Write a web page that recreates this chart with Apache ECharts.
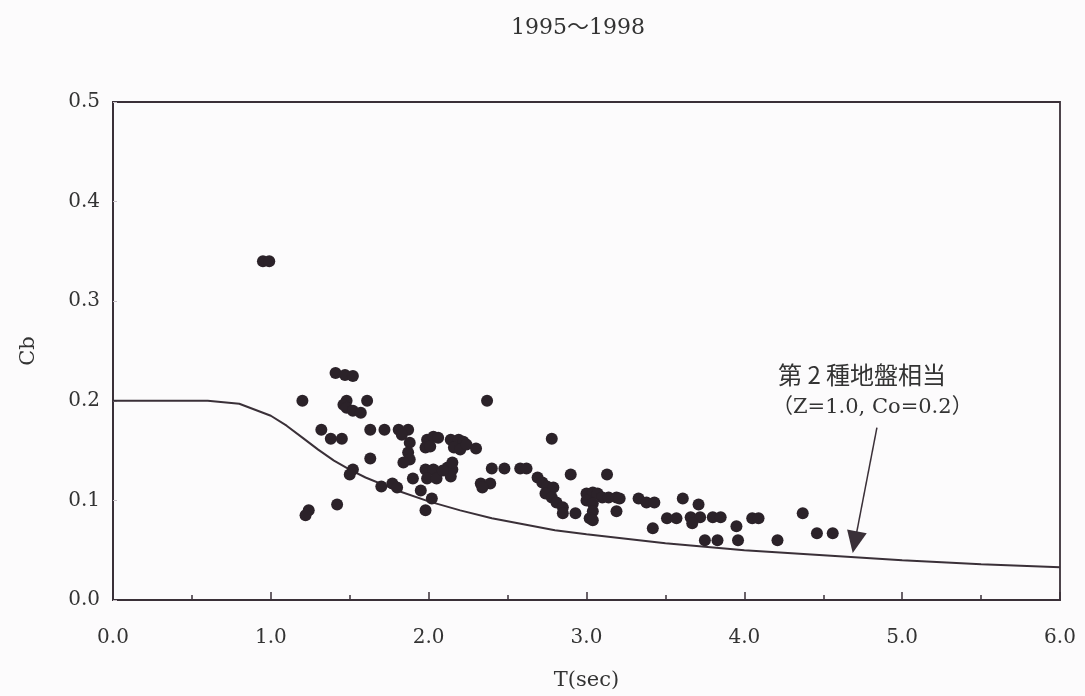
<!DOCTYPE html>
<html>
<head>
<meta charset="utf-8">
<script src="https://cdn.jsdelivr.net/npm/echarts@6/dist/echarts.min.js"></script>
<style>
html,body{margin:0;padding:0;background:#fcfbfc;}
#c{width:1085px;height:696px;}
</style>
</head>
<body>
<div id="c"></div>
<script>
const titleText = '1995～1998';
const xName = 'T(sec)';
const yName = 'Cb';
const noteLine1 = '第 2 種地盤相当';
const noteLine2 = '（Z=1.0, Co=0.2）';

// Observed (T, Cb) points
const observedPoints = [
  [0.95,0.340],[0.99,0.340],
  [1.41,0.228],[1.47,0.226],[1.52,0.225],
  [1.20,0.200],
  [1.48,0.200],[1.46,0.196],[1.48,0.193],[1.52,0.190],[1.57,0.188],
  [1.61,0.200],
  [1.32,0.171],
  [1.38,0.162],[1.45,0.162],
  [1.63,0.171],[1.72,0.171],
  [1.81,0.171],[1.87,0.171],[1.83,0.166],
  [1.88,0.158],
  [1.87,0.148],[1.88,0.141],[1.84,0.138],
  [1.99,0.161],[2.03,0.164],[2.06,0.163],[1.98,0.153],[2.01,0.154],
  [2.14,0.161],[2.19,0.161],[2.22,0.159],[2.16,0.153],[2.20,0.151],[2.24,0.156],
  [2.30,0.152],
  [1.63,0.142],
  [1.52,0.131],[1.50,0.126],
  [1.90,0.122],[1.98,0.131],[2.03,0.131],[1.99,0.122],[2.05,0.122],[1.95,0.110],[2.02,0.102],[1.98,0.090],
  [1.70,0.114],[1.77,0.117],[1.80,0.113],
  [2.12,0.133],[2.15,0.131],[2.14,0.124],[2.15,0.138],[2.09,0.130],
  [1.24,0.090],[1.22,0.085],
  [1.42,0.096],
  [2.37,0.200],
  [2.33,0.117],[2.39,0.117],[2.34,0.113],
  [2.40,0.132],[2.48,0.132],[2.58,0.132],[2.62,0.132],
  [2.78,0.162],
  [2.69,0.123],[2.72,0.118],[2.75,0.114],[2.79,0.113],[2.74,0.107],[2.78,0.103],
  [2.90,0.126],
  [2.81,0.098],[2.85,0.093],[2.85,0.087],[2.93,0.087],
  [3.13,0.126],
  [3.00,0.107],[3.04,0.108],[3.07,0.107],[3.10,0.103],[3.14,0.103],[3.19,0.103],[3.21,0.102],
  [3.00,0.100],[3.04,0.097],[3.04,0.089],[3.02,0.082],[3.19,0.089],[3.04,0.080],
  [3.33,0.102],[3.38,0.098],[3.43,0.098],
  [3.51,0.082],[3.57,0.082],
  [3.42,0.072],
  [3.61,0.102],[3.71,0.096],
  [3.66,0.083],[3.72,0.083],[3.80,0.083],[3.85,0.083],
  [3.67,0.077],
  [3.75,0.060],[3.83,0.060],
  [3.95,0.074],[3.96,0.060],
  [4.05,0.082],[4.09,0.082],
  [4.21,0.060],
  [4.37,0.087],
  [4.46,0.067],[4.56,0.067]
];

// Design curve (type-2 soil)
const curvePoints = [
  [0.0,0.200],[0.6,0.200],[0.8,0.197],[1.0,0.185],[1.1,0.175],[1.2,0.163],
  [1.3,0.151],[1.4,0.140],[1.5,0.131],[1.6,0.123],[1.8,0.110],[2.0,0.099],
  [2.2,0.090],[2.4,0.082],[2.6,0.076],[2.8,0.070],[3.0,0.066],[3.5,0.057],
  [4.0,0.050],[4.5,0.045],[5.0,0.040],[5.5,0.036],[6.0,0.033]
];

// Arrow from annotation to curve
const arrowStart = [4.84,0.173];
const arrowEnd = [4.70,0.058];

const xTicks = {min:0, max:6, interval:1};
const yTicks = {min:0, max:0.5, interval:0.1};

const ink = '#3a3038';
const serif = '"DejaVu Serif","Liberation Serif",serif';
const cjk = '"DejaVu Serif","Noto Sans CJK JP",serif';

const chart = echarts.init(document.getElementById('c'));
chart.setOption({
  backgroundColor:'#fcfbfc',
  animation:false,
  title:{
    text:titleText, left:573, top:12, textAlign:'center',
    textStyle:{fontFamily:cjk, fontSize:22, fontWeight:'normal', color:'#333'}
  },
  grid:{left:113, right:25, top:102, bottom:96, show:true, borderColor:ink, borderWidth:1.8, backgroundColor:'transparent'},
  xAxis:{
    type:'value', min:xTicks.min, max:xTicks.max, interval:xTicks.interval,
    name:xName, nameLocation:'middle', nameGap:70,
    nameTextStyle:{fontFamily:serif, fontSize:21, color:'#333'},
    axisLine:{show:true, lineStyle:{color:ink, width:2}},
    axisTick:{show:true, inside:true, length:8, lineStyle:{color:ink, width:1.5}},
    minorTick:{show:true, splitNumber:2, length:5, lineStyle:{color:ink, width:1.5}},
    splitLine:{show:false},
    minorSplitLine:{show:false},
    axisLabel:{margin:28, fontFamily:serif, fontSize:20, color:'#333', formatter:v => v.toFixed(1)}
  },
  yAxis:{
    type:'value', min:yTicks.min, max:yTicks.max, interval:yTicks.interval,
    name:yName, nameLocation:'middle', nameGap:74, nameRotate:90,
    nameTextStyle:{fontFamily:serif, fontSize:21, color:'#333'},
    axisLine:{show:true, lineStyle:{color:ink, width:2}},
    axisTick:{show:true, inside:true, length:4, lineStyle:{color:'#c8c0c6', width:1}},
    splitLine:{show:false},
    axisLabel:{margin:13, fontFamily:serif, fontSize:20, color:'#333', formatter:v => v.toFixed(1)}
  },
  series:[
    {
      type:'line', data:curvePoints, smooth:false, showSymbol:false, symbol:'none',
      lineStyle:{color:ink, width:2}, z:2,
      markLine:{
        silent:true, symbol:['none','triangle'], symbolSize:[20,22],
        label:{show:false},
        lineStyle:{color:ink, width:1.5, type:'solid'},
        data:[[{coord:arrowStart},{coord:arrowEnd}]]
      }
    },
    {
      type:'scatter', data:observedPoints, symbol:'circle', symbolSize:12,
      itemStyle:{color:'#2b2229', opacity:1}, z:3
    }
  ],
  graphic:[
    {type:'text', left:778, top:363, style:{text:noteLine1, font:'24px "Noto Sans CJK JP"', fill:'#333'}},
    {type:'text', left:772, top:397, style:{text:noteLine2, font:'21px "DejaVu Serif","Noto Sans CJK JP"', fill:'#333'}}
  ]
});
</script>
</body>
</html>
